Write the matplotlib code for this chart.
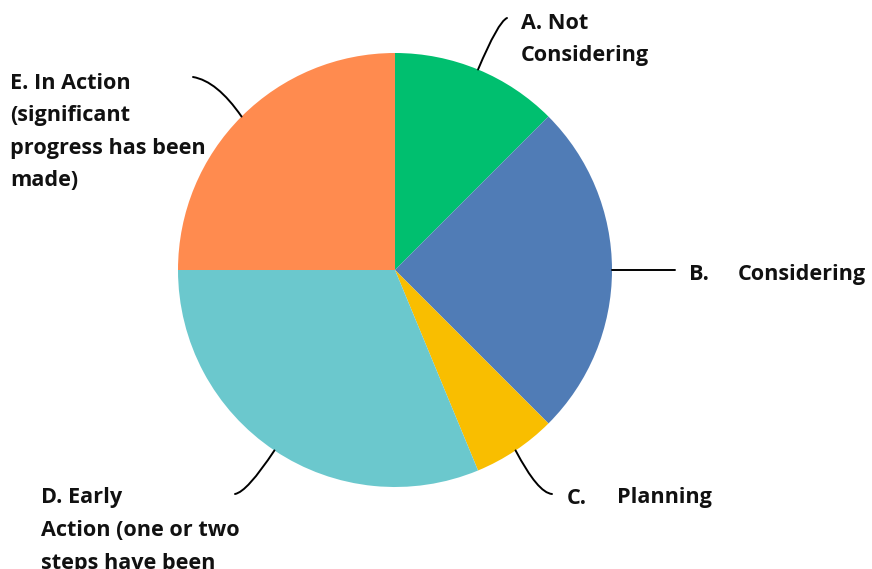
import numpy as np
import matplotlib
matplotlib.use("Agg")
import matplotlib.pyplot as plt
from matplotlib.path import Path
from matplotlib.patches import PathPatch

# Response shares per stage (out of 16 responses)
categories = ["A. Not\nConsidering",
              "B.\tConsidering",
              "C.\tPlanning",
              "D. Early\nAction (one or two\nsteps have been\nmade)",
              "E. In Action\n(significant\nprogress has been\nmade)"]
values = [2, 4, 1, 5, 4]
colors = ["#00BF6F", "#507CB6", "#F9BE00", "#6BC8CD", "#FF8B4F"]

W, H = 872, 569
fig = plt.figure(figsize=(W / 100, H / 100), dpi=100)
ax = fig.add_axes([0, 0, 1, 1])

cx, cy, r = 395, H - 270, 217
wedges, _ = ax.pie(values, colors=colors, startangle=90, counterclock=False,
                   center=(cx, cy), radius=r, frame=True,
                   wedgeprops=dict(linewidth=0))
ax.set_xlim(0, W)
ax.set_ylim(0, H)
ax.set_aspect("equal")
ax.axis("off")

font = dict(family="Open Sans", fontweight="bold", fontsize=15.6, color="#111111")

# leader line: (control point, end point) in pixel coords, label anchor, name offset
leaders = [
    ((498, 22), (507, 18), (521, 23), None),
    (None, (675, 270), (689, 274), 738),
    ((538, 493), (552, 494), (567, 498), 617),
    ((247, 492), (235, 494), (41, 498), None),
    ((217, 81), (193, 77), (10, 83), None),
]

for w, lab, (ctrl, end, anchor, name_x) in zip(wedges, categories, leaders):
    mid = np.deg2rad((w.theta1 + w.theta2) / 2)
    p0 = (cx + r * np.cos(mid), cy + r * np.sin(mid))
    p2 = (end[0], H - end[1])
    if ctrl is None:
        path = Path([p0, p2], [Path.MOVETO, Path.LINETO])
    else:
        p1 = (ctrl[0], H - ctrl[1])
        path = Path([p0, p1, p2], [Path.MOVETO, Path.CURVE3, Path.CURVE3])
    ax.add_patch(PathPatch(path, fill=False, lw=1.4, color="black",
                           capstyle="round"))

    ax_, ay_ = anchor[0], H - anchor[1]
    if "\t" in lab:
        head, name = lab.split("\t")
        ax.text(ax_, ay_, head, ha="left", va="center", **font)
        ax.text(name_x, ay_, name, ha="left", va="center", **font)
    else:
        for i, line in enumerate(lab.split("\n")):
            ax.text(ax_, ay_ - i * 32.5, line, ha="left", va="center", **font)

fig.savefig("out.png", dpi=100)
